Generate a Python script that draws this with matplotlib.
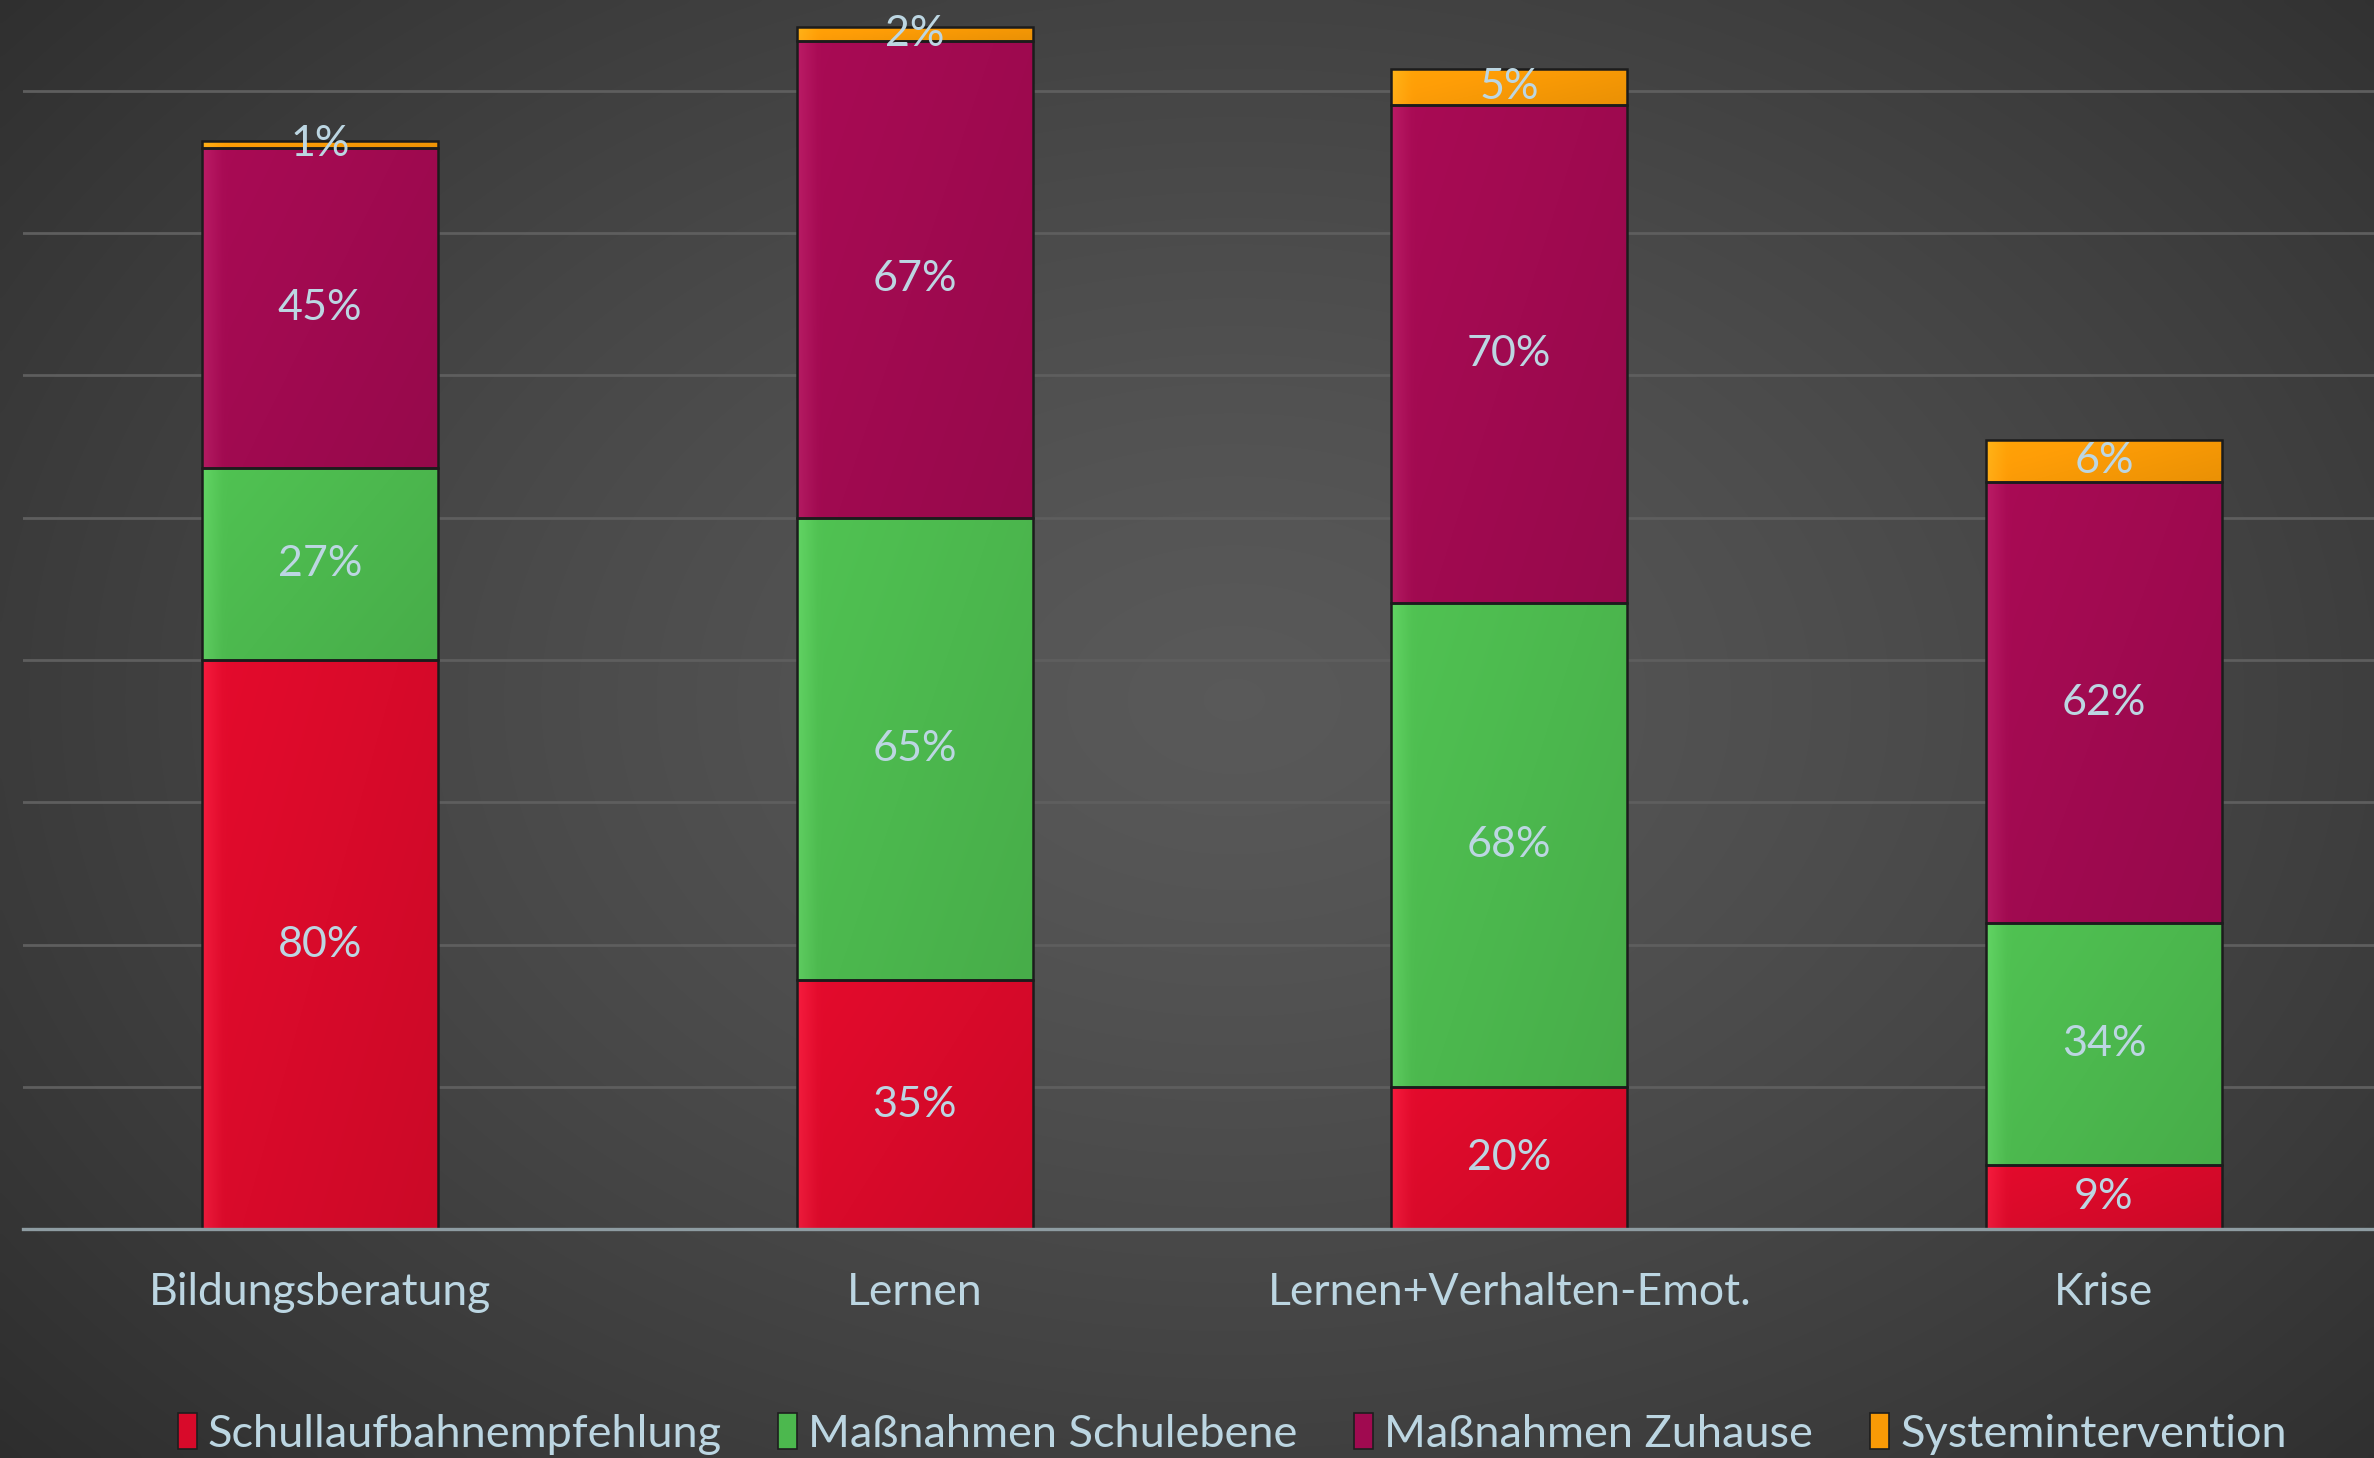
import numpy as np
import matplotlib
matplotlib.use("Agg")
import matplotlib.pyplot as plt
from matplotlib.patches import Patch
from matplotlib.colors import to_rgb

categories = ["Bildungsberatung", "Lernen", "Lernen+Verhalten-Emot.", "Krise"]
series_names = ["Schullaufbahnempfehlung", "Maßnahmen Schulebene", "Maßnahmen Zuhause", "Systemintervention"]
schullaufbahn = [80, 35, 20, 9]
schulebene = [27, 65, 68, 34]
zuhause = [45, 67, 70, 62]
system = [1, 2, 5, 6]
series_values = [schullaufbahn, schulebene, zuhause, system]
colors = ["#d80a2a", "#4cb84e", "#a00a50", "#f99a06"]
text_color = "#bcd6e2"

plt.rcParams['font.family'] = ['Lato', 'DejaVu Sans']

W, H = 2374, 1458
fig = plt.figure(figsize=(W / 100, H / 100), dpi=100)

# background radial gradient
bg = fig.add_axes([0, 0, 1, 1], zorder=-10)
yy, xx = np.mgrid[0:1:300j, 0:1:480j]
r = np.sqrt(((xx - 0.52) / 0.75) ** 2 + ((yy - 0.48) / 0.85) ** 2)
val = np.clip(0.35 - 0.19 * r ** 1.3, 0.14, 0.36)
img = np.dstack([val, val, val])
bg.imshow(img, extent=[0, 1, 0, 1], aspect='auto', origin='upper', interpolation='bicubic')
bg.set_axis_off()

ax = fig.add_axes([15 / 1568, 151 / 963, 1571 / 1568, 812 / 963])
ax.set_facecolor('none')
x = np.arange(len(categories))
bottom = np.zeros(len(categories))
gy, gx = np.mgrid[0:1:40j, 0:1:40j]
shade = 1.06 - 0.12 * (0.6 * gx + 0.4 * gy)
edge = np.clip(1 - 12 * gx, 0, 1) * 0.06
for vals, col in zip(series_values, colors):
    v = np.array(vals, dtype=float)
    bars = ax.bar(x, v, bottom=bottom, width=0.397, color=col, linewidth=0, zorder=3)
    ax.bar(x, v, bottom=bottom, width=0.397, fill=False, edgecolor="#1c1c1c",
           linewidth=1.8, zorder=4)
    base = np.array(to_rgb(col))
    grad = np.clip(base[None, None, :] * shade[:, :, None] + edge[:, :, None], 0, 1)
    for b_patch in bars:
        bx, by = b_patch.get_x(), b_patch.get_y()
        bw, bh = b_patch.get_width(), b_patch.get_height()
        im = ax.imshow(grad, extent=[bx, bx + bw, by, by + bh], origin='upper',
                       aspect='auto', zorder=3.5, interpolation='bilinear')
        im.set_clip_path(b_patch)
    for xi, b, vi in zip(x, bottom, v):
        ax.text(xi, b + vi / 2, f"{int(vi)}%", ha='center', va='center', color=text_color,
                fontsize=31, zorder=5)
    bottom += v

ax.set_xlim(-0.5, 3.5)
ax.set_ylim(0, 812 / 4.7)
ax.set_yticks(np.arange(20, 180, 20))
ax.yaxis.grid(True, color="#5e5e5e", linewidth=2.0, zorder=0)
ax.tick_params(axis='y', left=False, labelleft=False)
ax.set_xticks(x)
ax.set_xticklabels(categories, color=text_color, fontsize=32)
ax.tick_params(axis='x', length=0, pad=31)
for s in ['top', 'right', 'left']:
    ax.spines[s].set_visible(False)
ax.spines['bottom'].set_color("#8e9ca2")
ax.spines['bottom'].set_linewidth(2.4)
ax.spines['bottom'].set_zorder(4.5)

handles = [Patch(facecolor=c, edgecolor="#1e1e1e", linewidth=1.2) for c in colors]
leg = fig.legend(handles, series_names, loc='center', bbox_to_anchor=(0.519, 0.0165), ncol=4,
                 frameon=False, fontsize=32.5, handlelength=0.42, handleheight=0.85,
                 handletextpad=0.25, columnspacing=1.25, labelcolor=text_color)

fig.savefig("out.png", dpi=100)
